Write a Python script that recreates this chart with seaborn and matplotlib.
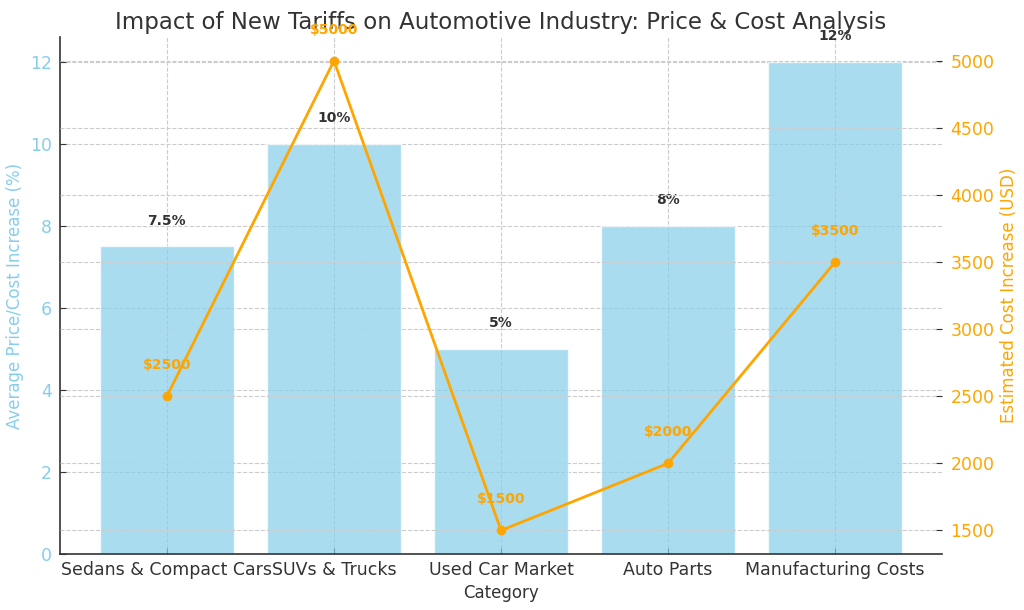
import numpy as np
import pandas as pd
import matplotlib
matplotlib.use("Agg")
import matplotlib.pyplot as plt
import seaborn as sns

categories = ["Sedans & Compact Cars", "SUVs & Trucks", "Used Car Market", "Auto Parts", "Manufacturing Costs"]
pct_increase = [7.5, 10, 5, 8, 12]
pct_labels = ["7.5%", "10%", "5%", "8%", "12%"]
cost_increase = [2500, 5000, 1500, 2000, 3500]
cost_labels = ["$2500", "$5000", "$1500", "$2000", "$3500"]

sns.set_style("whitegrid", {"grid.linestyle": "--", "grid.color": "#cccccc",
                            "axes.edgecolor": "#333333", "text.color": "#333333",
                            "xtick.color": "#333333", "ytick.color": "#333333",
                            "axes.labelcolor": "#333333"})
plt.rcParams['font.family'] = ['DejaVu Sans']

df = pd.DataFrame({"Category": categories, "Pct": pct_increase, "Cost": cost_increase})

fig, ax = plt.subplots(figsize=(10.24, 6.1), dpi=100)
fig.subplots_adjust(left=0.0586, right=0.92, bottom=0.092, top=0.939)

sns.barplot(data=df, x="Category", y="Pct", color="skyblue", alpha=0.7, width=0.8,
            saturation=1, ax=ax)
ax.set_xlim(-0.64, len(categories) - 0.36)
ax.set_ylim(0, 12.6)
ax.set_xlabel("Category", fontsize=12, color="#333333")
ax.set_ylabel("Average Price/Cost Increase (%)", fontsize=12, color="skyblue")
ax.tick_params(axis="y", labelcolor="skyblue", labelsize=12.5, left=True, length=4,
               direction="in", pad=6, color="#333333")
ax.tick_params(axis="x", labelsize=12.5, bottom=True, length=4, direction="in", pad=5,
               color="#333333")
ax.grid(True, linestyle="--", color="#cccccc", linewidth=0.8)
for s in ["top", "right"]:
    ax.spines[s].set_visible(False)
ax.spines["left"].set_linewidth(1.2)
ax.spines["bottom"].set_linewidth(1.2)

for i, (v, lab) in enumerate(zip(pct_increase, pct_labels)):
    ax.text(i, v + 0.45, lab, ha="center", va="bottom", fontsize=10, fontweight="bold", color="#333333")

ax2 = ax.twinx()
sns.lineplot(x=np.arange(len(categories)), y=cost_increase, color="orange", marker="o",
             linewidth=2, markersize=7, markeredgewidth=0, ax=ax2)
ax2.set_ylabel("Estimated Cost Increase (USD)", fontsize=12, color="orange")
ax2.tick_params(axis="y", labelcolor="orange", labelsize=12.5, right=True, length=4,
                direction="in", pad=6, color="#333333")
ax2.grid(True, axis="y", linestyle="--", color="#cccccc", linewidth=0.8)
for s in ["top", "right", "left", "bottom"]:
    ax2.spines[s].set_visible(False)

for i, (v, lab) in enumerate(zip(cost_increase, cost_labels)):
    ax2.text(i, v + 180, lab, ha="center", va="bottom", fontsize=10, fontweight="bold", color="orange")

ax.set_title("Impact of New Tariffs on Automotive Industry: Price & Cost Analysis",
             fontsize=16.5, color="#333333")

fig.savefig("out.png", dpi=100)
